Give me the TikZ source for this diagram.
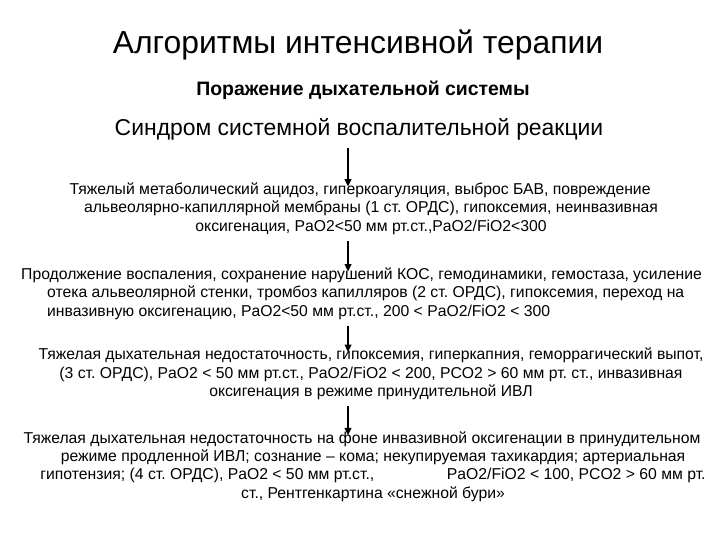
\documentclass[tikz,border=0pt]{standalone}
\usepackage{fontspec}
\setmainfont{Liberation Sans}
\usetikzlibrary{arrows.meta,positioning}
\frenchspacing
\tikzset{
  algtitle/.style={inner sep=0pt,font=\fontsize{32}{36}\selectfont},
  algsub/.style={inner sep=0pt,font=\fontsize{19.5}{23}\selectfont\bfseries},
  algsyndrome/.style={inner sep=0pt,font=\fontsize{23}{27}\selectfont},
  algstage/.style={inner sep=0pt,align=center,font=\fontsize{15.8}{18.5}\selectfont},
  algflow/.style={-{Triangle[length=2.6mm,width=2.4mm]},line width=1.4pt,draw=black}
}

\begin{document}
\begin{tikzpicture}[x=1bp,y=-1bp]
  \useasboundingbox[fill=white] (0,0) rectangle (720,540);
  \node[algtitle] (title) at (358,45) {Алгоритмы интенсивной терапии};
  \node[algsub] (organ) at (363,90) {Поражение дыхательной системы};
  \node[algsyndrome] (syn) at (359,129) {Синдром системной воспалительной реакции};
  \node[algstage] (st1) at (360,208.5) {Тяжелый метаболический ацидоз, гиперкоагуляция, выброс БАВ, повреждение\\
    \hspace*{22bp}альвеолярно-капиллярной мембраны (1 ст. ОРДС), гипоксемия, неинвазивная\\
    \hspace*{22bp}оксигенация, PaO2<50 мм рт.ст.,PaO2/FiO2<300};
  \node[algstage,align=left,anchor=west] (st2) at (21,293.5) {Продолжение воспаления, сохранение нарушений КОС, гемодинамики, гемостаза, усиление\\
    \hspace*{26bp}отека альвеолярной стенки, тромбоз капилляров (2 ст. ОРДС), гипоксемия, переход на\\
    \hspace*{26bp}инвазивную оксигенацию, PaO2<50 мм рт.ст., 200 < PaO2/FiO2 < 300};
  \node[algstage] (st3) at (371,374) {Тяжелая дыхательная недостаточность, гипоксемия, гиперкапния, геморрагический выпот,\\
    (3 ст. ОРДС), PaO2 < 50 мм рт.ст., PaO2/FiO2 < 200, PCO2 > 60 мм рт. ст., инвазивная\\
    оксигенация в режиме принудительной ИВЛ};
  \node[algstage] (st4) at (362,466.5) {Тяжелая дыхательная недостаточность на фоне инвазивной оксигенации в принудительном\\
    \hspace*{22bp}режиме продленной ИВЛ; сознание – кома; некупируемая тахикардия; артериальная\\
    \hspace*{22bp}гипотензия; (4 ст. ОРДС), PaO2 < 50 мм рт.ст., \hspace{64bp} PaO2/FiO2 < 100, PCO2 > 60 мм рт.\\
    \hspace*{22bp}ст., Рентгенкартина «снежной бури»};
  \coordinate (axis) at (348,0);
  \draw[algflow] ([yshift=-8bp]syn.south -| axis) -- ([yshift=-4bp]st1.north -| axis);
  \draw[algflow] ([yshift=-6bp]st1.south -| axis) -- ([yshift=-4bp]st2.north -| axis);
  \draw[algflow] ([yshift=-6bp]st2.south -| axis) -- ([yshift=-4bp]st3.north -| axis);
  \draw[algflow] ([yshift=-6bp]st3.south -| axis) -- ([yshift=-4bp]st4.north -| axis);
\end{tikzpicture}
\end{document}
